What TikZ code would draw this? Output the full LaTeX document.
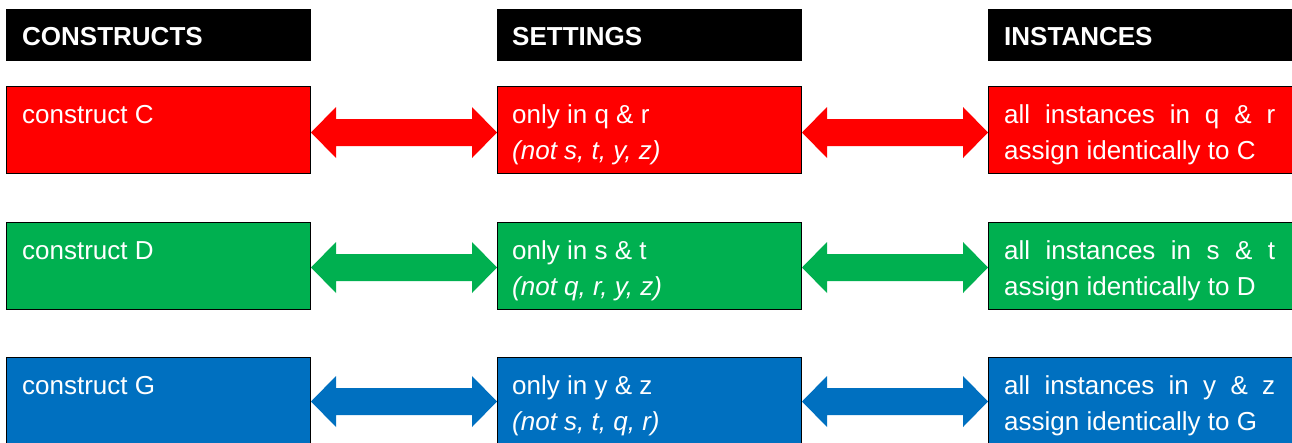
\documentclass[tikz,border=0pt]{standalone}
\usepackage{fontspec}
\setmainfont{Liberation Sans}
\usetikzlibrary{calc}
\definecolor{cred}{HTML}{FF0000}
\definecolor{cgreen}{HTML}{00B050}
\definecolor{cblue}{HTML}{0070C0}
\begin{document}
\begin{tikzpicture}[x=1pt,y=-1pt,
  hdr/.style={fill=black, draw=black, line width=1pt, minimum width=304pt, minimum height=51pt, anchor=north west, inner sep=0pt},
  box/.style={fill=#1, draw=black, line width=1pt, minimum width=304pt, minimum height=87pt, anchor=north west, inner sep=0pt},
  txt/.style={text=white, anchor=base west, inner sep=0pt, font=\fontsize{26}{36}\selectfont},
  htxt/.style={text=white, anchor=base west, inner sep=0pt, font=\fontsize{26}{36}\selectfont\bfseries},
  dbl/.style={fill=#1, draw=none, to path={
    let \p1=(\tikztostart), \p2=(\tikztotarget) in
    (\x1,\y1) -- (\x1+25pt,\y1+25.5pt) -- (\x1+25pt,\y1+13.5pt) -- (\x2-25pt,\y1+13.5pt)
    -- (\x2-25pt,\y1+25.5pt) -- (\x2,\y1) -- (\x2-25pt,\y1-25.5pt) -- (\x2-25pt,\y1-13.5pt)
    -- (\x1+25pt,\y1-13.5pt) -- (\x1+25pt,\y1-25.5pt) -- cycle}}
]
\useasboundingbox (0,0) rectangle (1292,442);
\clip (0,0) rectangle (1292,442);
\fill[white] (0,0) rectangle (1292,442);

% headers
\node[hdr] (h1) at (6,9) {};
\node[hdr] (h2) at (497,9) {};
\node[hdr] (h3) at (988,9) {};
\node[htxt] (h1t) at (22,45) {CONSTRUCTS};
\node[htxt] (h2t) at (512,45) {SETTINGS};
\node[htxt] (h3t) at (1004,45) {INSTANCES};

% red row
\node[box=cred] (c1) at (6,86) {};
\node[box=cred] (s1) at (497,86) {};
\node[box=cred] (i1) at (988,86) {};
\node[txt] (c1a) at (22,123) {construct C};
\node[txt] (s1a) at (512,123) {only in q \& r};
\node[txt] (s1b) at (512,159) {\itshape (not s, t, y, z)};
\node[txt] (i1a) at (1004,123) {\hbox to 271pt{all\hfill instances\hfill in\hfill q\hfill \&\hfill r}};
\node[txt] (i1b) at (1004,159) {assign identically to C};
\path[dbl=cred] ([yshift=-2.5pt]c1.east) to ([yshift=-2.5pt]s1.west);
\path[dbl=cred] ([yshift=-2.5pt]s1.east) to ([yshift=-2.5pt]i1.west);

% green row
\node[box=cgreen] (c2) at (6,222) {};
\node[box=cgreen] (s2) at (497,222) {};
\node[box=cgreen] (i2) at (988,222) {};
\node[txt] (c2a) at (22,259) {construct D};
\node[txt] (s2a) at (512,259) {only in s \& t};
\node[txt] (s2b) at (512,295) {\itshape (not q, r, y, z)};
\node[txt] (i2a) at (1004,259) {\hbox to 271pt{all\hfill instances\hfill in\hfill s\hfill \&\hfill t}};
\node[txt] (i2b) at (1004,295) {assign identically to D};
\path[dbl=cgreen] ([yshift=-1.5pt]c2.east) to ([yshift=-1.5pt]s2.west);
\path[dbl=cgreen] ([yshift=-1.5pt]s2.east) to ([yshift=-1.5pt]i2.west);

% blue row
\node[box=cblue] (c3) at (6,357) {};
\node[box=cblue] (s3) at (497,357) {};
\node[box=cblue] (i3) at (988,357) {};
\node[txt] (c3a) at (22,394) {construct G};
\node[txt] (s3a) at (512,394) {only in y \& z};
\node[txt] (s3b) at (512,430) {\itshape (not s, t, q, r)};
\node[txt] (i3a) at (1004,394) {\hbox to 271pt{all\hfill instances\hfill in\hfill y\hfill \&\hfill z}};
\node[txt] (i3b) at (1004,430) {assign identically to G};
\path[dbl=cblue] ([yshift=-0.5pt]c3.east) to ([yshift=-0.5pt]s3.west);
\path[dbl=cblue] ([yshift=-0.5pt]s3.east) to ([yshift=-0.5pt]i3.west);
\end{tikzpicture}
\end{document}
